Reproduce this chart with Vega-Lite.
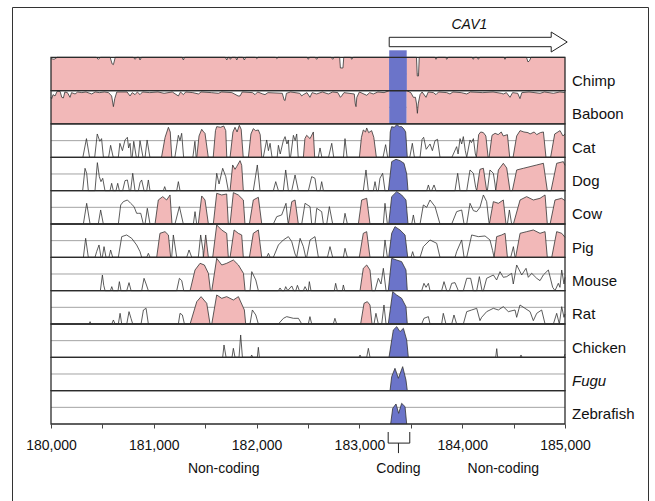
{
"$schema":"https://vega.github.io/schema/vega-lite/v6.json",
"width":636,"height":494,
"autosize":{"type":"none"},
"padding":{"left":12,"top":7,"right":7,"bottom":0},
"config":{"view":{"stroke":"#333","strokeWidth":1},"font":"Liberation Sans"},
"data":{"name":"cons"},
"datasets":{
"tracks":[{"s":"Chimp"},{"s":"Baboon"},{"s":"Cat"},{"s":"Dog"},{"s":"Cow"},{"s":"Pig"},{"s":"Mouse"},{"s":"Rat"},{"s":"Chicken"},{"s":"Fugu"},{"s":"Zebrafish"}],
"exon":[{"exon":"CAV1 coding","start":183290,"end":183460}],
"gene":[{"gene":"CAV1","start":183290,"lx":184070}],
"notes":[{"lbl":"Non-coding","x":181680},{"lbl":"Coding","x":183380,"start":183280,"end":183490},{"lbl":"Non-coding","x":184400}],
"cons":[
{"s":"Chimp","x":180000,"y":98,"g":"a"},{"s":"Chimp","x":180030,"y":97,"g":"a"},{"s":"Chimp","x":180060,"y":100,"g":"a"},{"s":"Chimp","x":180440,"y":100,"g":"a"},{"s":"Chimp","x":180461,"y":97,"g":"a"},{"s":"Chimp","x":180480,"y":100,"g":"a"},{"s":"Chimp","x":180575,"y":100,"g":"a"},{"s":"Chimp","x":180595,"y":90,"g":"a"},{"s":"Chimp","x":180607,"y":89,"g":"a"},{"s":"Chimp","x":180625,"y":100,"g":"a"},{"s":"Chimp","x":180800,"y":100,"g":"a"},{"s":"Chimp","x":180818,"y":97,"g":"a"},{"s":"Chimp","x":180835,"y":100,"g":"a"},{"s":"Chimp","x":180855,"y":100,"g":"a"},{"s":"Chimp","x":180866,"y":96,"g":"a"},{"s":"Chimp","x":180880,"y":100,"g":"a"},{"s":"Chimp","x":181275,"y":100,"g":"a"},{"s":"Chimp","x":181288,"y":96,"g":"a"},{"s":"Chimp","x":181300,"y":100,"g":"a"},{"s":"Chimp","x":181695,"y":100,"g":"a"},{"s":"Chimp","x":181710,"y":96,"g":"a"},{"s":"Chimp","x":181725,"y":100,"g":"a"},{"s":"Chimp","x":181735,"y":100,"g":"a"},{"s":"Chimp","x":181745,"y":97,"g":"a"},{"s":"Chimp","x":181760,"y":100,"g":"a"},{"s":"Chimp","x":181795,"y":100,"g":"a"},{"s":"Chimp","x":181807,"y":96,"g":"a"},{"s":"Chimp","x":181820,"y":100,"g":"a"},{"s":"Chimp","x":181865,"y":100,"g":"a"},{"s":"Chimp","x":181881,"y":96,"g":"a"},{"s":"Chimp","x":181895,"y":100,"g":"a"},{"s":"Chimp","x":181990,"y":100,"g":"a"},{"s":"Chimp","x":182001,"y":98,"g":"a"},{"s":"Chimp","x":182015,"y":100,"g":"a"},{"s":"Chimp","x":182185,"y":100,"g":"a"},{"s":"Chimp","x":182196,"y":98,"g":"a"},{"s":"Chimp","x":182210,"y":100,"g":"a"},{"s":"Chimp","x":182490,"y":100,"g":"a"},{"s":"Chimp","x":182503,"y":97,"g":"a"},{"s":"Chimp","x":182515,"y":100,"g":"a"},{"s":"Chimp","x":182570,"y":100,"g":"a"},{"s":"Chimp","x":182584,"y":97,"g":"a"},{"s":"Chimp","x":182600,"y":100,"g":"a"},{"s":"Chimp","x":182725,"y":100,"g":"a"},{"s":"Chimp","x":182740,"y":97,"g":"a"},{"s":"Chimp","x":182755,"y":100,"g":"a"},{"s":"Chimp","x":182808,"y":100,"g":"a"},{"s":"Chimp","x":182815,"y":84,"g":"a"},{"s":"Chimp","x":182840,"y":84,"g":"a"},{"s":"Chimp","x":182848,"y":100,"g":"a"},{"s":"Chimp","x":182915,"y":100,"g":"a"},{"s":"Chimp","x":182925,"y":97,"g":"a"},{"s":"Chimp","x":182940,"y":100,"g":"a"},{"s":"Chimp","x":183290,"y":100,"g":"a"},
{"s":"Chimp","x":183290,"y":100,"g":"e"},{"s":"Chimp","x":183460,"y":100,"g":"e"},
{"s":"Chimp","x":183460,"y":100,"g":"b"},{"s":"Chimp","x":183555,"y":100,"g":"b"},{"s":"Chimp","x":183563,"y":72,"g":"b"},{"s":"Chimp","x":183575,"y":72,"g":"b"},{"s":"Chimp","x":183582,"y":100,"g":"b"},{"s":"Chimp","x":183735,"y":100,"g":"b"},{"s":"Chimp","x":183745,"y":97,"g":"b"},{"s":"Chimp","x":183760,"y":100,"g":"b"},{"s":"Chimp","x":183840,"y":100,"g":"b"},{"s":"Chimp","x":183849,"y":97,"g":"b"},{"s":"Chimp","x":183865,"y":100,"g":"b"},{"s":"Chimp","x":184095,"y":100,"g":"b"},{"s":"Chimp","x":184108,"y":97,"g":"b"},{"s":"Chimp","x":184120,"y":100,"g":"b"},{"s":"Chimp","x":184145,"y":100,"g":"b"},{"s":"Chimp","x":184157,"y":97,"g":"b"},{"s":"Chimp","x":184170,"y":100,"g":"b"},{"s":"Chimp","x":184405,"y":100,"g":"b"},{"s":"Chimp","x":184416,"y":97,"g":"b"},{"s":"Chimp","x":184430,"y":100,"g":"b"},{"s":"Chimp","x":184625,"y":100,"g":"b"},{"s":"Chimp","x":184640,"y":93,"g":"b"},{"s":"Chimp","x":184655,"y":95,"g":"b"},{"s":"Chimp","x":184670,"y":100,"g":"b"},{"s":"Chimp","x":185000,"y":100,"g":"b"},

{"s":"Baboon","x":180000,"y":90,"g":"a"},{"s":"Baboon","x":180007,"y":88,"g":"a"},{"s":"Baboon","x":180020,"y":94,"g":"a"},{"s":"Baboon","x":180039,"y":92,"g":"a"},{"s":"Baboon","x":180060,"y":99,"g":"a"},{"s":"Baboon","x":180088,"y":99,"g":"a"},{"s":"Baboon","x":180105,"y":90,"g":"a"},{"s":"Baboon","x":180120,"y":89,"g":"a"},{"s":"Baboon","x":180135,"y":98,"g":"a"},{"s":"Baboon","x":180160,"y":97,"g":"a"},{"s":"Baboon","x":180185,"y":90,"g":"a"},{"s":"Baboon","x":180200,"y":97,"g":"a"},{"s":"Baboon","x":180234,"y":95,"g":"a"},{"s":"Baboon","x":180260,"y":98,"g":"a"},{"s":"Baboon","x":180300,"y":97,"g":"a"},{"s":"Baboon","x":180340,"y":98,"g":"a"},{"s":"Baboon","x":180396,"y":95,"g":"a"},{"s":"Baboon","x":180430,"y":98,"g":"a"},{"s":"Baboon","x":180470,"y":97,"g":"a"},{"s":"Baboon","x":180520,"y":98,"g":"a"},{"s":"Baboon","x":180560,"y":97,"g":"a"},{"s":"Baboon","x":180590,"y":92,"g":"a"},{"s":"Baboon","x":180607,"y":76,"g":"a"},{"s":"Baboon","x":180620,"y":88,"g":"a"},{"s":"Baboon","x":180640,"y":98,"g":"a"},{"s":"Baboon","x":180740,"y":98,"g":"a"},{"s":"Baboon","x":180769,"y":92,"g":"a"},{"s":"Baboon","x":180790,"y":97,"g":"a"},{"s":"Baboon","x":180818,"y":94,"g":"a"},{"s":"Baboon","x":180840,"y":98,"g":"a"},{"s":"Baboon","x":180866,"y":94,"g":"a"},{"s":"Baboon","x":180890,"y":98,"g":"a"},{"s":"Baboon","x":180960,"y":97,"g":"a"},{"s":"Baboon","x":181040,"y":98,"g":"a"},{"s":"Baboon","x":181100,"y":96,"g":"a"},{"s":"Baboon","x":181180,"y":98,"g":"a"},{"s":"Baboon","x":181239,"y":92,"g":"a"},{"s":"Baboon","x":181260,"y":98,"g":"a"},{"s":"Baboon","x":181288,"y":94,"g":"a"},{"s":"Baboon","x":181310,"y":98,"g":"a"},{"s":"Baboon","x":181380,"y":97,"g":"a"},{"s":"Baboon","x":181434,"y":95,"g":"a"},{"s":"Baboon","x":181460,"y":98,"g":"a"},{"s":"Baboon","x":181560,"y":97,"g":"a"},{"s":"Baboon","x":181628,"y":96,"g":"a"},{"s":"Baboon","x":181660,"y":98,"g":"a"},{"s":"Baboon","x":181760,"y":97,"g":"a"},{"s":"Baboon","x":181820,"y":92,"g":"a"},{"s":"Baboon","x":181839,"y":92,"g":"a"},{"s":"Baboon","x":181860,"y":98,"g":"a"},{"s":"Baboon","x":181960,"y":97,"g":"a"},{"s":"Baboon","x":181985,"y":94,"g":"a"},{"s":"Baboon","x":182010,"y":98,"g":"a"},{"s":"Baboon","x":182060,"y":95,"g":"a"},{"s":"Baboon","x":182082,"y":94,"g":"a"},{"s":"Baboon","x":182110,"y":97,"g":"a"},{"s":"Baboon","x":182250,"y":96,"g":"a"},{"s":"Baboon","x":182268,"y":86,"g":"a"},{"s":"Baboon","x":182277,"y":85,"g":"a"},{"s":"Baboon","x":182290,"y":96,"g":"a"},{"s":"Baboon","x":182330,"y":98,"g":"a"},{"s":"Baboon","x":182420,"y":96,"g":"a"},{"s":"Baboon","x":182439,"y":92,"g":"a"},{"s":"Baboon","x":182454,"y":94,"g":"a"},{"s":"Baboon","x":182490,"y":97,"g":"a"},{"s":"Baboon","x":182519,"y":90,"g":"a"},{"s":"Baboon","x":182540,"y":97,"g":"a"},{"s":"Baboon","x":182584,"y":95,"g":"a"},{"s":"Baboon","x":182640,"y":98,"g":"a"},{"s":"Baboon","x":182698,"y":95,"g":"a"},{"s":"Baboon","x":182740,"y":98,"g":"a"},{"s":"Baboon","x":182790,"y":97,"g":"a"},{"s":"Baboon","x":182815,"y":90,"g":"a"},{"s":"Baboon","x":182827,"y":92,"g":"a"},{"s":"Baboon","x":182850,"y":97,"g":"a"},{"s":"Baboon","x":182950,"y":95,"g":"a"},{"s":"Baboon","x":182960,"y":80,"g":"a"},{"s":"Baboon","x":182967,"y":76,"g":"a"},{"s":"Baboon","x":182975,"y":90,"g":"a"},{"s":"Baboon","x":183000,"y":98,"g":"a"},{"s":"Baboon","x":183071,"y":93,"g":"a"},{"s":"Baboon","x":183100,"y":97,"g":"a"},{"s":"Baboon","x":183135,"y":95,"g":"a"},{"s":"Baboon","x":183180,"y":98,"g":"a"},{"s":"Baboon","x":183240,"y":97,"g":"a"},{"s":"Baboon","x":183290,"y":100,"g":"a"},
{"s":"Baboon","x":183290,"y":100,"g":"e"},{"s":"Baboon","x":183460,"y":100,"g":"e"},
{"s":"Baboon","x":183460,"y":100,"g":"b"},{"s":"Baboon","x":183500,"y":97,"g":"b"},{"s":"Baboon","x":183525,"y":90,"g":"b"},{"s":"Baboon","x":183545,"y":90,"g":"b"},{"s":"Baboon","x":183556,"y":80,"g":"b"},{"s":"Baboon","x":183564,"y":66,"g":"b"},{"s":"Baboon","x":183572,"y":80,"g":"b"},{"s":"Baboon","x":183590,"y":94,"g":"b"},{"s":"Baboon","x":183610,"y":98,"g":"b"},{"s":"Baboon","x":183648,"y":90,"g":"b"},{"s":"Baboon","x":183670,"y":98,"g":"b"},{"s":"Baboon","x":183720,"y":97,"g":"b"},{"s":"Baboon","x":183745,"y":94,"g":"b"},{"s":"Baboon","x":183770,"y":98,"g":"b"},{"s":"Baboon","x":183850,"y":97,"g":"b"},{"s":"Baboon","x":183881,"y":95,"g":"b"},{"s":"Baboon","x":183910,"y":98,"g":"b"},{"s":"Baboon","x":183990,"y":97,"g":"b"},{"s":"Baboon","x":184044,"y":95,"g":"b"},{"s":"Baboon","x":184080,"y":98,"g":"b"},{"s":"Baboon","x":184200,"y":97,"g":"b"},{"s":"Baboon","x":184300,"y":98,"g":"b"},{"s":"Baboon","x":184380,"y":96,"g":"b"},{"s":"Baboon","x":184400,"y":95,"g":"b"},{"s":"Baboon","x":184430,"y":97,"g":"b"},{"s":"Baboon","x":184465,"y":90,"g":"b"},{"s":"Baboon","x":184490,"y":97,"g":"b"},{"s":"Baboon","x":184540,"y":96,"g":"b"},{"s":"Baboon","x":184562,"y":88,"g":"b"},{"s":"Baboon","x":184580,"y":97,"g":"b"},{"s":"Baboon","x":184650,"y":98,"g":"b"},{"s":"Baboon","x":184757,"y":96,"g":"b"},{"s":"Baboon","x":184800,"y":98,"g":"b"},{"s":"Baboon","x":184887,"y":96,"g":"b"},{"s":"Baboon","x":184950,"y":98,"g":"b"},{"s":"Baboon","x":185000,"y":97,"g":"b"},

{"s":"Cat","x":180310,"y":50},{"s":"Cat","x":180345,"y":78},{"s":"Cat","x":180375,"y":50},{"s":"Cat","x":180425,"y":50},{"s":"Cat","x":180450,"y":85},{"s":"Cat","x":180475,"y":74},{"s":"Cat","x":180492,"y":78},{"s":"Cat","x":180510,"y":50},{"s":"Cat","x":180560,"y":50},{"s":"Cat","x":180580,"y":68},{"s":"Cat","x":180605,"y":50},{"s":"Cat","x":180655,"y":50},{"s":"Cat","x":180670,"y":71},{"s":"Cat","x":180695,"y":60},{"s":"Cat","x":180720,"y":76},{"s":"Cat","x":180743,"y":80},{"s":"Cat","x":180755,"y":64},{"s":"Cat","x":180769,"y":71},{"s":"Cat","x":180780,"y":50},{"s":"Cat","x":180790,"y":50},{"s":"Cat","x":180805,"y":74},{"s":"Cat","x":180830,"y":50},{"s":"Cat","x":180850,"y":50},{"s":"Cat","x":180866,"y":75},{"s":"Cat","x":180895,"y":50},{"s":"Cat","x":180915,"y":50},{"s":"Cat","x":180935,"y":76},{"s":"Cat","x":180962,"y":50},
{"s":"Cat","x":181075,"y":50,"g":"p1"},{"s":"Cat","x":181110,"y":80,"g":"p1"},{"s":"Cat","x":181142,"y":95,"g":"p1"},{"s":"Cat","x":181160,"y":88,"g":"p1"},{"s":"Cat","x":181175,"y":50,"g":"p1"},
{"s":"Cat","x":181205,"y":50},{"s":"Cat","x":181239,"y":83},{"s":"Cat","x":181255,"y":75},{"s":"Cat","x":181271,"y":86},{"s":"Cat","x":181290,"y":50},{"s":"Cat","x":181380,"y":50},{"s":"Cat","x":181400,"y":74},{"s":"Cat","x":181412,"y":50},
{"s":"Cat","x":181418,"y":50,"g":"p2"},{"s":"Cat","x":181440,"y":82,"g":"p2"},{"s":"Cat","x":181466,"y":92,"g":"p2"},{"s":"Cat","x":181485,"y":88,"g":"p2"},{"s":"Cat","x":181498,"y":86,"g":"p2"},{"s":"Cat","x":181530,"y":50,"g":"p2"},
{"s":"Cat","x":181578,"y":50,"g":"p3"},{"s":"Cat","x":181600,"y":90,"g":"p3"},{"s":"Cat","x":181612,"y":96,"g":"p3"},{"s":"Cat","x":181650,"y":95,"g":"p3"},{"s":"Cat","x":181680,"y":97,"g":"p3"},{"s":"Cat","x":181700,"y":90,"g":"p3"},{"s":"Cat","x":181710,"y":50,"g":"p3"},
{"s":"Cat","x":181742,"y":50,"g":"p4"},{"s":"Cat","x":181770,"y":88,"g":"p4"},{"s":"Cat","x":181790,"y":95,"g":"p4"},{"s":"Cat","x":181810,"y":88,"g":"p4"},{"s":"Cat","x":181832,"y":98,"g":"p4"},{"s":"Cat","x":181850,"y":92,"g":"p4"},{"s":"Cat","x":181870,"y":50,"g":"p4"},
{"s":"Cat","x":181920,"y":50,"g":"p5"},{"s":"Cat","x":181945,"y":85,"g":"p5"},{"s":"Cat","x":181968,"y":93,"g":"p5"},{"s":"Cat","x":181990,"y":90,"g":"p5"},{"s":"Cat","x":182017,"y":91,"g":"p5"},{"s":"Cat","x":182035,"y":84,"g":"p5"},{"s":"Cat","x":182050,"y":50,"g":"p5"},
{"s":"Cat","x":182065,"y":50},{"s":"Cat","x":182098,"y":76},{"s":"Cat","x":182115,"y":60},{"s":"Cat","x":182131,"y":71},{"s":"Cat","x":182150,"y":50},{"s":"Cat","x":182200,"y":50},{"s":"Cat","x":182212,"y":68},{"s":"Cat","x":182230,"y":55},{"s":"Cat","x":182260,"y":75},{"s":"Cat","x":182277,"y":81},{"s":"Cat","x":182295,"y":70},{"s":"Cat","x":182309,"y":76},{"s":"Cat","x":182320,"y":50},{"s":"Cat","x":182330,"y":50},{"s":"Cat","x":182358,"y":83},{"s":"Cat","x":182375,"y":75},{"s":"Cat","x":182390,"y":85},{"s":"Cat","x":182405,"y":50},
{"s":"Cat","x":182455,"y":50,"g":"p6"},{"s":"Cat","x":182470,"y":78,"g":"p6"},{"s":"Cat","x":182487,"y":83,"g":"p6"},{"s":"Cat","x":182520,"y":78,"g":"p6"},{"s":"Cat","x":182552,"y":88,"g":"p6"},{"s":"Cat","x":182565,"y":50,"g":"p6"},
{"s":"Cat","x":182600,"y":50},{"s":"Cat","x":182617,"y":64},{"s":"Cat","x":182635,"y":50},{"s":"Cat","x":182700,"y":50},{"s":"Cat","x":182731,"y":71},{"s":"Cat","x":182750,"y":50},{"s":"Cat","x":182845,"y":50},{"s":"Cat","x":182860,"y":78},{"s":"Cat","x":182880,"y":50},
{"s":"Cat","x":183000,"y":50,"g":"p7"},{"s":"Cat","x":183020,"y":80,"g":"p7"},{"s":"Cat","x":183038,"y":91,"g":"p7"},{"s":"Cat","x":183060,"y":88,"g":"p7"},{"s":"Cat","x":183071,"y":94,"g":"p7"},{"s":"Cat","x":183090,"y":87,"g":"p7"},{"s":"Cat","x":183119,"y":90,"g":"p7"},{"s":"Cat","x":183140,"y":80,"g":"p7"},{"s":"Cat","x":183165,"y":50,"g":"p7"},
{"s":"Cat","x":183230,"y":50},{"s":"Cat","x":183255,"y":69},{"s":"Cat","x":183275,"y":50},
{"s":"Cat","x":183290,"y":50,"g":"e"},{"s":"Cat","x":183300,"y":88,"g":"e"},{"s":"Cat","x":183314,"y":96,"g":"e"},{"s":"Cat","x":183340,"y":95,"g":"e"},{"s":"Cat","x":183363,"y":99,"g":"e"},{"s":"Cat","x":183390,"y":96,"g":"e"},{"s":"Cat","x":183411,"y":96,"g":"e"},{"s":"Cat","x":183435,"y":92,"g":"e"},{"s":"Cat","x":183450,"y":88,"g":"e"},{"s":"Cat","x":183466,"y":50,"g":"e"},
{"s":"Cat","x":183490,"y":50},{"s":"Cat","x":183515,"y":71},{"s":"Cat","x":183535,"y":50},{"s":"Cat","x":183590,"y":50},{"s":"Cat","x":183610,"y":77},{"s":"Cat","x":183625,"y":80},{"s":"Cat","x":183650,"y":62},{"s":"Cat","x":183687,"y":70},{"s":"Cat","x":183710,"y":60},{"s":"Cat","x":183736,"y":75},{"s":"Cat","x":183760,"y":77},{"s":"Cat","x":183784,"y":50},{"s":"Cat","x":183900,"y":50},{"s":"Cat","x":183946,"y":66},{"s":"Cat","x":183960,"y":55},{"s":"Cat","x":183979,"y":78},{"s":"Cat","x":183995,"y":70},{"s":"Cat","x":184011,"y":81},{"s":"Cat","x":184030,"y":60},{"s":"Cat","x":184044,"y":50},{"s":"Cat","x":184076,"y":76},{"s":"Cat","x":184090,"y":72},{"s":"Cat","x":184109,"y":78},{"s":"Cat","x":184128,"y":55},
{"s":"Cat","x":184138,"y":50,"g":"p8"},{"s":"Cat","x":184160,"y":84,"g":"p8"},{"s":"Cat","x":184180,"y":88,"g":"p8"},{"s":"Cat","x":184206,"y":87,"g":"p8"},{"s":"Cat","x":184230,"y":82,"g":"p8"},{"s":"Cat","x":184252,"y":50,"g":"p8"},
{"s":"Cat","x":184262,"y":50,"g":"p9"},{"s":"Cat","x":184290,"y":83,"g":"p9"},{"s":"Cat","x":184320,"y":86,"g":"p9"},{"s":"Cat","x":184350,"y":84,"g":"p9"},{"s":"Cat","x":184380,"y":88,"g":"p9"},{"s":"Cat","x":184400,"y":82,"g":"p9"},{"s":"Cat","x":184440,"y":84,"g":"p9"},{"s":"Cat","x":184462,"y":50,"g":"p9"},
{"s":"Cat","x":184495,"y":50,"g":"p10"},{"s":"Cat","x":184530,"y":82,"g":"p10"},{"s":"Cat","x":184563,"y":90,"g":"p10"},{"s":"Cat","x":184600,"y":88,"g":"p10"},{"s":"Cat","x":184640,"y":87,"g":"p10"},{"s":"Cat","x":184660,"y":85,"g":"p10"},{"s":"Cat","x":184700,"y":88,"g":"p10"},{"s":"Cat","x":184725,"y":84,"g":"p10"},{"s":"Cat","x":184760,"y":87,"g":"p10"},{"s":"Cat","x":184790,"y":88,"g":"p10"},{"s":"Cat","x":184815,"y":50,"g":"p10"},
{"s":"Cat","x":184860,"y":50,"g":"p11"},{"s":"Cat","x":184900,"y":85,"g":"p11"},{"s":"Cat","x":184952,"y":90,"g":"p11"},{"s":"Cat","x":184980,"y":82,"g":"p11"},{"s":"Cat","x":185000,"y":85,"g":"p11"},

{"s":"Dog","x":180308,"y":50},{"s":"Dog","x":180331,"y":83.5},{"s":"Dog","x":180347,"y":76},{"s":"Dog","x":180363,"y":50},{"s":"Dog","x":180428,"y":50},{"s":"Dog","x":180451,"y":92},{"s":"Dog","x":180470,"y":71},{"s":"Dog","x":180486,"y":63.5},{"s":"Dog","x":180503,"y":68.5},{"s":"Dog","x":180525,"y":50},{"s":"Dog","x":180574,"y":50},{"s":"Dog","x":180590,"y":61},{"s":"Dog","x":180606,"y":50},{"s":"Dog","x":180632,"y":50},{"s":"Dog","x":180649,"y":61},{"s":"Dog","x":180665,"y":50},{"s":"Dog","x":180697,"y":50},{"s":"Dog","x":180720,"y":65},{"s":"Dog","x":180743,"y":66},{"s":"Dog","x":180762,"y":50},{"s":"Dog","x":180775,"y":50},{"s":"Dog","x":180795,"y":76},{"s":"Dog","x":180817,"y":50},{"s":"Dog","x":180850,"y":50},{"s":"Dog","x":180866,"y":62},{"s":"Dog","x":180882,"y":66},{"s":"Dog","x":180905,"y":50},{"s":"Dog","x":180931,"y":50},{"s":"Dog","x":180947,"y":66},{"s":"Dog","x":180963,"y":50},{"s":"Dog","x":181093,"y":50},{"s":"Dog","x":181106,"y":56},{"s":"Dog","x":181119,"y":50},{"s":"Dog","x":181223,"y":50},{"s":"Dog","x":181239,"y":63.5},{"s":"Dog","x":181255,"y":50},{"s":"Dog","x":181596,"y":50},{"s":"Dog","x":181612,"y":76},{"s":"Dog","x":181635,"y":60},{"s":"Dog","x":181670,"y":83.5},{"s":"Dog","x":181700,"y":71},{"s":"Dog","x":181725,"y":50},
{"s":"Dog","x":181742,"y":50,"g":"p1"},{"s":"Dog","x":181767,"y":88.5,"g":"p1"},{"s":"Dog","x":181790,"y":82,"g":"p1"},{"s":"Dog","x":181806,"y":86,"g":"p1"},{"s":"Dog","x":181839,"y":95,"g":"p1"},{"s":"Dog","x":181855,"y":88,"g":"p1"},{"s":"Dog","x":181871,"y":50,"g":"p1"},
{"s":"Dog","x":181968,"y":50},{"s":"Dog","x":182007,"y":88.5},{"s":"Dog","x":182033,"y":50},{"s":"Dog","x":182163,"y":50},{"s":"Dog","x":182186,"y":63.5},{"s":"Dog","x":182212,"y":50},{"s":"Dog","x":182260,"y":50},{"s":"Dog","x":182283,"y":81},{"s":"Dog","x":182309,"y":50},{"s":"Dog","x":182342,"y":50},{"s":"Dog","x":182374,"y":73.5},{"s":"Dog","x":182406,"y":50},{"s":"Dog","x":182504,"y":50},{"s":"Dog","x":182536,"y":71},{"s":"Dog","x":182568,"y":68.5},{"s":"Dog","x":182585,"y":50},{"s":"Dog","x":182617,"y":50},{"s":"Dog","x":182633,"y":63.5},{"s":"Dog","x":182650,"y":50},{"s":"Dog","x":183038,"y":50},{"s":"Dog","x":183064,"y":81},{"s":"Dog","x":183087,"y":50},{"s":"Dog","x":183136,"y":50},{"s":"Dog","x":183152,"y":63.5},{"s":"Dog","x":183168,"y":50},{"s":"Dog","x":183184,"y":50},{"s":"Dog","x":183200,"y":68.5},{"s":"Dog","x":183226,"y":76},{"s":"Dog","x":183249,"y":50},
{"s":"Dog","x":183282,"y":50,"g":"e"},{"s":"Dog","x":183314,"y":93.5,"g":"e"},{"s":"Dog","x":183356,"y":97,"g":"e"},{"s":"Dog","x":183395,"y":95,"g":"e"},{"s":"Dog","x":183434,"y":91,"g":"e"},{"s":"Dog","x":183460,"y":75,"g":"e"},{"s":"Dog","x":183473,"y":50,"g":"e"},
{"s":"Dog","x":183655,"y":50},{"s":"Dog","x":183671,"y":58.5},{"s":"Dog","x":183687,"y":50},{"s":"Dog","x":183703,"y":50},{"s":"Dog","x":183726,"y":58.5},{"s":"Dog","x":183745,"y":50},{"s":"Dog","x":183930,"y":50},{"s":"Dog","x":183956,"y":76},{"s":"Dog","x":183979,"y":50},{"s":"Dog","x":184044,"y":50},{"s":"Dog","x":184076,"y":81},{"s":"Dog","x":184109,"y":76},{"s":"Dog","x":184131,"y":55},
{"s":"Dog","x":184141,"y":50,"g":"p2"},{"s":"Dog","x":184173,"y":82,"g":"p2"},{"s":"Dog","x":184206,"y":83.5,"g":"p2"},{"s":"Dog","x":184238,"y":50,"g":"p2"},
{"s":"Dog","x":184245,"y":50},{"s":"Dog","x":184270,"y":81},{"s":"Dog","x":184303,"y":76},{"s":"Dog","x":184319,"y":60},
{"s":"Dog","x":184326,"y":50,"g":"p3"},{"s":"Dog","x":184352,"y":81,"g":"p3"},{"s":"Dog","x":184400,"y":91,"g":"p3"},{"s":"Dog","x":184433,"y":84,"g":"p3"},{"s":"Dog","x":184465,"y":50,"g":"p3"},
{"s":"Dog","x":184488,"y":50,"g":"p4"},{"s":"Dog","x":184530,"y":81,"g":"p4"},{"s":"Dog","x":184595,"y":83.5,"g":"p4"},{"s":"Dog","x":184660,"y":86,"g":"p4"},{"s":"Dog","x":184725,"y":88.5,"g":"p4"},{"s":"Dog","x":184790,"y":91,"g":"p4"},{"s":"Dog","x":184828,"y":50,"g":"p4"},
{"s":"Dog","x":184864,"y":50,"g":"p5"},{"s":"Dog","x":184919,"y":91,"g":"p5"},{"s":"Dog","x":184984,"y":93.5,"g":"p5"},{"s":"Dog","x":185000,"y":88,"g":"p5"},

{"s":"Cow","x":180315,"y":50},{"s":"Cow","x":180347,"y":81},{"s":"Cow","x":180380,"y":50},{"s":"Cow","x":180460,"y":50},{"s":"Cow","x":180483,"y":71},{"s":"Cow","x":180509,"y":50},{"s":"Cow","x":180655,"y":50},{"s":"Cow","x":180678,"y":78.5},{"s":"Cow","x":180704,"y":83.5},{"s":"Cow","x":180743,"y":86},{"s":"Cow","x":180775,"y":81},{"s":"Cow","x":180808,"y":76},{"s":"Cow","x":180833,"y":66},{"s":"Cow","x":180850,"y":66},{"s":"Cow","x":180873,"y":66},{"s":"Cow","x":180898,"y":50},{"s":"Cow","x":180915,"y":50},{"s":"Cow","x":180937,"y":73.5},{"s":"Cow","x":180963,"y":50},
{"s":"Cow","x":181012,"y":50,"g":"p1"},{"s":"Cow","x":181044,"y":86,"g":"p1"},{"s":"Cow","x":181087,"y":91,"g":"p1"},{"s":"Cow","x":181125,"y":86,"g":"p1"},{"s":"Cow","x":181158,"y":93.5,"g":"p1"},{"s":"Cow","x":181177,"y":50,"g":"p1"},
{"s":"Cow","x":181206,"y":50},{"s":"Cow","x":181249,"y":76},{"s":"Cow","x":181287,"y":50},{"s":"Cow","x":181385,"y":50},{"s":"Cow","x":181401,"y":68.5},{"s":"Cow","x":181417,"y":50},
{"s":"Cow","x":181433,"y":50,"g":"p2"},{"s":"Cow","x":181466,"y":92,"g":"p2"},{"s":"Cow","x":181498,"y":86,"g":"p2"},{"s":"Cow","x":181531,"y":50,"g":"p2"},
{"s":"Cow","x":181579,"y":50,"g":"p3"},{"s":"Cow","x":181612,"y":96,"g":"p3"},{"s":"Cow","x":181660,"y":93.5,"g":"p3"},{"s":"Cow","x":181709,"y":95,"g":"p3"},{"s":"Cow","x":181725,"y":50,"g":"p3"},
{"s":"Cow","x":181742,"y":50,"g":"p4"},{"s":"Cow","x":181774,"y":97,"g":"p4"},{"s":"Cow","x":181822,"y":93.5,"g":"p4"},{"s":"Cow","x":181871,"y":86,"g":"p4"},{"s":"Cow","x":181887,"y":50,"g":"p4"},
{"s":"Cow","x":181930,"y":50,"g":"p5"},{"s":"Cow","x":181968,"y":86,"g":"p5"},{"s":"Cow","x":182017,"y":90,"g":"p5"},{"s":"Cow","x":182050,"y":50,"g":"p5"},
{"s":"Cow","x":182163,"y":50},{"s":"Cow","x":182196,"y":61},{"s":"Cow","x":182244,"y":63.5},{"s":"Cow","x":182286,"y":81},{"s":"Cow","x":182303,"y":55},
{"s":"Cow","x":182309,"y":50,"g":"p6"},{"s":"Cow","x":182342,"y":83.5,"g":"p6"},{"s":"Cow","x":182374,"y":86,"g":"p6"},{"s":"Cow","x":182406,"y":50,"g":"p6"},
{"s":"Cow","x":182439,"y":50},{"s":"Cow","x":182471,"y":81},{"s":"Cow","x":182520,"y":76},{"s":"Cow","x":182536,"y":50},{"s":"Cow","x":182568,"y":50},{"s":"Cow","x":182585,"y":73.5},{"s":"Cow","x":182633,"y":68.5},{"s":"Cow","x":182650,"y":50},{"s":"Cow","x":182682,"y":50},{"s":"Cow","x":182708,"y":76},{"s":"Cow","x":182740,"y":50},{"s":"Cow","x":182844,"y":50},{"s":"Cow","x":182860,"y":66},{"s":"Cow","x":182883,"y":50},
{"s":"Cow","x":182990,"y":50,"g":"p7"},{"s":"Cow","x":183022,"y":86,"g":"p7"},{"s":"Cow","x":183071,"y":88.5,"g":"p7"},{"s":"Cow","x":183103,"y":50,"g":"p7"},
{"s":"Cow","x":183233,"y":50},{"s":"Cow","x":183249,"y":81},{"s":"Cow","x":183272,"y":50},
{"s":"Cow","x":183285,"y":50,"g":"e"},{"s":"Cow","x":183314,"y":91,"g":"e"},{"s":"Cow","x":183363,"y":98.5,"g":"e"},{"s":"Cow","x":183411,"y":93.5,"g":"e"},{"s":"Cow","x":183453,"y":86,"g":"e"},{"s":"Cow","x":183473,"y":50,"g":"e"},
{"s":"Cow","x":183509,"y":50},{"s":"Cow","x":183525,"y":63.5},{"s":"Cow","x":183541,"y":50},{"s":"Cow","x":183590,"y":50},{"s":"Cow","x":183622,"y":78.5},{"s":"Cow","x":183655,"y":75},{"s":"Cow","x":183687,"y":86},{"s":"Cow","x":183736,"y":76},{"s":"Cow","x":183784,"y":50},{"s":"Cow","x":183898,"y":50},{"s":"Cow","x":183946,"y":68.5},{"s":"Cow","x":183995,"y":71},{"s":"Cow","x":184018,"y":50},{"s":"Cow","x":184044,"y":50},{"s":"Cow","x":184076,"y":81},{"s":"Cow","x":184109,"y":70},{"s":"Cow","x":184141,"y":68.5},{"s":"Cow","x":184173,"y":75},{"s":"Cow","x":184206,"y":93.5},{"s":"Cow","x":184238,"y":83.5},{"s":"Cow","x":184258,"y":55},
{"s":"Cow","x":184264,"y":50,"g":"p8"},{"s":"Cow","x":184303,"y":83.5,"g":"p8"},{"s":"Cow","x":184352,"y":81,"g":"p8"},{"s":"Cow","x":184400,"y":86,"g":"p8"},{"s":"Cow","x":184426,"y":50,"g":"p8"},
{"s":"Cow","x":184440,"y":50},{"s":"Cow","x":184459,"y":71},{"s":"Cow","x":184481,"y":50},
{"s":"Cow","x":184498,"y":50,"g":"p9"},{"s":"Cow","x":184563,"y":86,"g":"p9"},{"s":"Cow","x":184627,"y":91,"g":"p9"},{"s":"Cow","x":184692,"y":86,"g":"p9"},{"s":"Cow","x":184757,"y":88.5,"g":"p9"},{"s":"Cow","x":184806,"y":93.5,"g":"p9"},{"s":"Cow","x":184828,"y":50,"g":"p9"},
{"s":"Cow","x":184855,"y":50,"g":"p10"},{"s":"Cow","x":184903,"y":86,"g":"p10"},{"s":"Cow","x":184968,"y":88.5,"g":"p10"},{"s":"Cow","x":185000,"y":85,"g":"p10"},

{"s":"Pig","x":180315,"y":50},{"s":"Pig","x":180337,"y":78.5},{"s":"Pig","x":180363,"y":50},{"s":"Pig","x":180428,"y":50},{"s":"Pig","x":180444,"y":58.5},{"s":"Pig","x":180467,"y":68.5},{"s":"Pig","x":180486,"y":50},{"s":"Pig","x":180499,"y":50},{"s":"Pig","x":180516,"y":66},{"s":"Pig","x":180535,"y":50},{"s":"Pig","x":180564,"y":50},{"s":"Pig","x":180580,"y":61},{"s":"Pig","x":180600,"y":50},{"s":"Pig","x":180655,"y":50},{"s":"Pig","x":180688,"y":81},{"s":"Pig","x":180736,"y":83.5},{"s":"Pig","x":180785,"y":78.5},{"s":"Pig","x":180833,"y":68.5},{"s":"Pig","x":180866,"y":58.5},{"s":"Pig","x":180882,"y":50},{"s":"Pig","x":180931,"y":50},{"s":"Pig","x":180947,"y":56},{"s":"Pig","x":180963,"y":50},
{"s":"Pig","x":181028,"y":50,"g":"p1"},{"s":"Pig","x":181060,"y":86,"g":"p1"},{"s":"Pig","x":181109,"y":88.5,"g":"p1"},{"s":"Pig","x":181142,"y":83.5,"g":"p1"},{"s":"Pig","x":181164,"y":50,"g":"p1"},
{"s":"Pig","x":181174,"y":50},{"s":"Pig","x":181190,"y":83.5},{"s":"Pig","x":181223,"y":50},{"s":"Pig","x":181320,"y":50},{"s":"Pig","x":181343,"y":61},{"s":"Pig","x":181369,"y":50},{"s":"Pig","x":181433,"y":50},{"s":"Pig","x":181456,"y":83.5},{"s":"Pig","x":181479,"y":60},
{"s":"Pig","x":181482,"y":50,"g":"p2"},{"s":"Pig","x":181505,"y":83.5,"g":"p2"},{"s":"Pig","x":181531,"y":50,"g":"p2"},
{"s":"Pig","x":181573,"y":50,"g":"p3"},{"s":"Pig","x":181612,"y":98.5,"g":"p3"},{"s":"Pig","x":181660,"y":91,"g":"p3"},{"s":"Pig","x":181709,"y":86,"g":"p3"},{"s":"Pig","x":181725,"y":50,"g":"p3"},
{"s":"Pig","x":181742,"y":50,"g":"p4"},{"s":"Pig","x":181781,"y":91,"g":"p4"},{"s":"Pig","x":181822,"y":86,"g":"p4"},{"s":"Pig","x":181855,"y":83.5,"g":"p4"},{"s":"Pig","x":181871,"y":50,"g":"p4"},
{"s":"Pig","x":181930,"y":50,"g":"p5"},{"s":"Pig","x":181968,"y":86,"g":"p5"},{"s":"Pig","x":182017,"y":91,"g":"p5"},{"s":"Pig","x":182050,"y":50,"g":"p5"},
{"s":"Pig","x":182098,"y":50},{"s":"Pig","x":182115,"y":56},{"s":"Pig","x":182131,"y":50},{"s":"Pig","x":182163,"y":50},{"s":"Pig","x":182212,"y":68.5},{"s":"Pig","x":182260,"y":76},{"s":"Pig","x":182309,"y":81},{"s":"Pig","x":182342,"y":73.5},{"s":"Pig","x":182374,"y":55},{"s":"Pig","x":182390,"y":50},{"s":"Pig","x":182423,"y":78.5},{"s":"Pig","x":182455,"y":66},{"s":"Pig","x":182478,"y":50},{"s":"Pig","x":182487,"y":50},{"s":"Pig","x":182520,"y":76},{"s":"Pig","x":182568,"y":81},{"s":"Pig","x":182601,"y":50},{"s":"Pig","x":182689,"y":50},{"s":"Pig","x":182714,"y":66},{"s":"Pig","x":182740,"y":50},{"s":"Pig","x":182844,"y":50},{"s":"Pig","x":182860,"y":63.5},{"s":"Pig","x":182883,"y":50},
{"s":"Pig","x":182999,"y":50,"g":"p6"},{"s":"Pig","x":183038,"y":86,"g":"p6"},{"s":"Pig","x":183071,"y":88.5,"g":"p6"},{"s":"Pig","x":183103,"y":50,"g":"p6"},
{"s":"Pig","x":183233,"y":50},{"s":"Pig","x":183249,"y":76},{"s":"Pig","x":183272,"y":50},
{"s":"Pig","x":183285,"y":50,"g":"e"},{"s":"Pig","x":183314,"y":86,"g":"e"},{"s":"Pig","x":183346,"y":96,"g":"e"},{"s":"Pig","x":183395,"y":91,"g":"e"},{"s":"Pig","x":183444,"y":83.5,"g":"e"},{"s":"Pig","x":183470,"y":50,"g":"e"},
{"s":"Pig","x":183502,"y":50},{"s":"Pig","x":183518,"y":58.5},{"s":"Pig","x":183534,"y":50},{"s":"Pig","x":183590,"y":50},{"s":"Pig","x":183622,"y":66},{"s":"Pig","x":183687,"y":76},{"s":"Pig","x":183752,"y":71},{"s":"Pig","x":183784,"y":50},{"s":"Pig","x":183930,"y":50},{"s":"Pig","x":183946,"y":58.5},{"s":"Pig","x":183995,"y":76},{"s":"Pig","x":184018,"y":50},{"s":"Pig","x":184044,"y":50},{"s":"Pig","x":184092,"y":83.5},{"s":"Pig","x":184157,"y":81},{"s":"Pig","x":184222,"y":82},{"s":"Pig","x":184270,"y":76},{"s":"Pig","x":184296,"y":60},
{"s":"Pig","x":184310,"y":50,"g":"p7"},{"s":"Pig","x":184335,"y":81,"g":"p7"},{"s":"Pig","x":184384,"y":83.5,"g":"p7"},{"s":"Pig","x":184417,"y":86,"g":"p7"},{"s":"Pig","x":184440,"y":50,"g":"p7"},
{"s":"Pig","x":184472,"y":50},{"s":"Pig","x":184498,"y":66},{"s":"Pig","x":184514,"y":50},
{"s":"Pig","x":184520,"y":50,"g":"p8"},{"s":"Pig","x":184563,"y":86,"g":"p8"},{"s":"Pig","x":184627,"y":88.5,"g":"p8"},{"s":"Pig","x":184692,"y":91,"g":"p8"},{"s":"Pig","x":184757,"y":86,"g":"p8"},{"s":"Pig","x":184806,"y":88.5,"g":"p8"},{"s":"Pig","x":184828,"y":50,"g":"p8"},
{"s":"Pig","x":184871,"y":50,"g":"p9"},{"s":"Pig","x":184919,"y":88.5,"g":"p9"},{"s":"Pig","x":184968,"y":86,"g":"p9"},{"s":"Pig","x":185000,"y":80,"g":"p9"},

{"s":"Mouse","x":180480,"y":50},{"s":"Mouse","x":180500,"y":73.5},{"s":"Mouse","x":180513,"y":58},{"s":"Mouse","x":180526,"y":50},{"s":"Mouse","x":180578,"y":50},{"s":"Mouse","x":180591,"y":56},{"s":"Mouse","x":180604,"y":50},{"s":"Mouse","x":180652,"y":50},{"s":"Mouse","x":180665,"y":63.5},{"s":"Mouse","x":180681,"y":50},{"s":"Mouse","x":180737,"y":50},{"s":"Mouse","x":180759,"y":62},{"s":"Mouse","x":180779,"y":50},{"s":"Mouse","x":180882,"y":50},{"s":"Mouse","x":180905,"y":68.5},{"s":"Mouse","x":180925,"y":60},{"s":"Mouse","x":180947,"y":50},{"s":"Mouse","x":181223,"y":50},{"s":"Mouse","x":181249,"y":68.5},{"s":"Mouse","x":181272,"y":65},{"s":"Mouse","x":181291,"y":50},
{"s":"Mouse","x":181353,"y":50,"g":"p1"},{"s":"Mouse","x":181401,"y":81,"g":"p1"},{"s":"Mouse","x":181450,"y":91,"g":"p1"},{"s":"Mouse","x":181492,"y":88.5,"g":"p1"},{"s":"Mouse","x":181531,"y":76,"g":"p1"},{"s":"Mouse","x":181551,"y":50,"g":"p1"},
{"s":"Mouse","x":181564,"y":50,"g":"p2"},{"s":"Mouse","x":181612,"y":98.5,"g":"p2"},{"s":"Mouse","x":181661,"y":88.5,"g":"p2"},{"s":"Mouse","x":181709,"y":91,"g":"p2"},{"s":"Mouse","x":181774,"y":96,"g":"p2"},{"s":"Mouse","x":181823,"y":88.5,"g":"p2"},{"s":"Mouse","x":181872,"y":76,"g":"p2"},{"s":"Mouse","x":181888,"y":50,"g":"p2"},
{"s":"Mouse","x":181936,"y":50},{"s":"Mouse","x":181953,"y":78.5},{"s":"Mouse","x":181992,"y":66},{"s":"Mouse","x":182017,"y":50},{"s":"Mouse","x":182212,"y":50},{"s":"Mouse","x":182228,"y":54},{"s":"Mouse","x":182245,"y":50},{"s":"Mouse","x":182270,"y":50},{"s":"Mouse","x":182283,"y":56},{"s":"Mouse","x":182303,"y":50},{"s":"Mouse","x":182342,"y":57},{"s":"Mouse","x":182361,"y":50},{"s":"Mouse","x":182381,"y":50},{"s":"Mouse","x":182397,"y":58},{"s":"Mouse","x":182416,"y":50},{"s":"Mouse","x":182455,"y":50},{"s":"Mouse","x":182471,"y":56},{"s":"Mouse","x":182491,"y":50},{"s":"Mouse","x":182503,"y":50},{"s":"Mouse","x":182513,"y":63.5},{"s":"Mouse","x":182529,"y":50},{"s":"Mouse","x":182756,"y":50},{"s":"Mouse","x":182769,"y":61},{"s":"Mouse","x":182785,"y":50},{"s":"Mouse","x":182834,"y":50},{"s":"Mouse","x":182844,"y":58.5},{"s":"Mouse","x":182857,"y":50},
{"s":"Mouse","x":183006,"y":50,"g":"p3"},{"s":"Mouse","x":183038,"y":83.5,"g":"p3"},{"s":"Mouse","x":183071,"y":88.5,"g":"p3"},{"s":"Mouse","x":183103,"y":81,"g":"p3"},{"s":"Mouse","x":183123,"y":50,"g":"p3"},
{"s":"Mouse","x":183152,"y":50},{"s":"Mouse","x":183184,"y":68.5},{"s":"Mouse","x":183210,"y":60},{"s":"Mouse","x":183233,"y":83.5},{"s":"Mouse","x":183259,"y":50},
{"s":"Mouse","x":183281,"y":50,"g":"e"},{"s":"Mouse","x":183314,"y":98.5,"g":"e"},{"s":"Mouse","x":183362,"y":96,"g":"e"},{"s":"Mouse","x":183411,"y":93.5,"g":"e"},{"s":"Mouse","x":183453,"y":81,"g":"e"},{"s":"Mouse","x":183466,"y":50,"g":"e"},
{"s":"Mouse","x":183606,"y":50},{"s":"Mouse","x":183628,"y":61},{"s":"Mouse","x":183648,"y":55},{"s":"Mouse","x":183671,"y":61},{"s":"Mouse","x":183687,"y":50},{"s":"Mouse","x":183800,"y":50},{"s":"Mouse","x":183823,"y":63.5},{"s":"Mouse","x":183849,"y":50},{"s":"Mouse","x":183875,"y":50},{"s":"Mouse","x":183898,"y":61},{"s":"Mouse","x":183930,"y":62},{"s":"Mouse","x":183962,"y":50},{"s":"Mouse","x":184011,"y":50},{"s":"Mouse","x":184044,"y":68.5},{"s":"Mouse","x":184082,"y":68.5},{"s":"Mouse","x":184108,"y":50},{"s":"Mouse","x":184141,"y":50},{"s":"Mouse","x":184167,"y":71},{"s":"Mouse","x":184193,"y":50},{"s":"Mouse","x":184206,"y":50},{"s":"Mouse","x":184238,"y":68.5},{"s":"Mouse","x":184303,"y":73.5},{"s":"Mouse","x":184335,"y":66},{"s":"Mouse","x":184368,"y":78.5},{"s":"Mouse","x":184400,"y":70},{"s":"Mouse","x":184433,"y":71},{"s":"Mouse","x":184481,"y":76},{"s":"Mouse","x":184497,"y":60},{"s":"Mouse","x":184530,"y":88.5},{"s":"Mouse","x":184579,"y":73.5},{"s":"Mouse","x":184621,"y":83.5},{"s":"Mouse","x":184643,"y":70},{"s":"Mouse","x":184676,"y":76},{"s":"Mouse","x":184725,"y":68.5},{"s":"Mouse","x":184757,"y":65},{"s":"Mouse","x":184789,"y":73.5},{"s":"Mouse","x":184838,"y":81},{"s":"Mouse","x":184880,"y":55},{"s":"Mouse","x":184903,"y":50},{"s":"Mouse","x":184935,"y":61},{"s":"Mouse","x":184951,"y":55},{"s":"Mouse","x":184968,"y":81},{"s":"Mouse","x":184990,"y":60},{"s":"Mouse","x":185000,"y":70},

{"s":"Rat","x":180370,"y":50},{"s":"Rat","x":180380,"y":53.5},{"s":"Rat","x":180390,"y":50},{"s":"Rat","x":180591,"y":50},{"s":"Rat","x":180607,"y":56},{"s":"Rat","x":180623,"y":50},{"s":"Rat","x":180655,"y":50},{"s":"Rat","x":180672,"y":66},{"s":"Rat","x":180688,"y":50},{"s":"Rat","x":180737,"y":50},{"s":"Rat","x":180759,"y":68.5},{"s":"Rat","x":180779,"y":58},{"s":"Rat","x":180795,"y":50},{"s":"Rat","x":180876,"y":50},{"s":"Rat","x":180899,"y":71},{"s":"Rat","x":180925,"y":73.5},{"s":"Rat","x":180947,"y":50},{"s":"Rat","x":181239,"y":50},{"s":"Rat","x":181255,"y":66},{"s":"Rat","x":181278,"y":63.5},{"s":"Rat","x":181298,"y":50},
{"s":"Rat","x":181353,"y":50,"g":"p1"},{"s":"Rat","x":181418,"y":83.5,"g":"p1"},{"s":"Rat","x":181460,"y":91,"g":"p1"},{"s":"Rat","x":181515,"y":81,"g":"p1"},{"s":"Rat","x":181547,"y":50,"g":"p1"},
{"s":"Rat","x":181564,"y":50,"g":"p2"},{"s":"Rat","x":181612,"y":93.5,"g":"p2"},{"s":"Rat","x":181661,"y":88.5,"g":"p2"},{"s":"Rat","x":181709,"y":91,"g":"p2"},{"s":"Rat","x":181774,"y":86,"g":"p2"},{"s":"Rat","x":181823,"y":91,"g":"p2"},{"s":"Rat","x":181881,"y":71,"g":"p2"},{"s":"Rat","x":181894,"y":50,"g":"p2"},
{"s":"Rat","x":181936,"y":50},{"s":"Rat","x":181959,"y":71},{"s":"Rat","x":181992,"y":63.5},{"s":"Rat","x":182017,"y":50},{"s":"Rat","x":182212,"y":50},{"s":"Rat","x":182261,"y":58.5},{"s":"Rat","x":182293,"y":61},{"s":"Rat","x":182358,"y":58.5},{"s":"Rat","x":182407,"y":58.5},{"s":"Rat","x":182439,"y":50},{"s":"Rat","x":182503,"y":50},{"s":"Rat","x":182519,"y":61},{"s":"Rat","x":182536,"y":50},{"s":"Rat","x":182746,"y":50},{"s":"Rat","x":182762,"y":58.5},{"s":"Rat","x":182779,"y":50},
{"s":"Rat","x":183012,"y":50,"g":"p3"},{"s":"Rat","x":183045,"y":81,"g":"p3"},{"s":"Rat","x":183077,"y":83.5,"g":"p3"},{"s":"Rat","x":183103,"y":78.5,"g":"p3"},{"s":"Rat","x":183123,"y":50,"g":"p3"},
{"s":"Rat","x":183142,"y":50},{"s":"Rat","x":183161,"y":66},{"s":"Rat","x":183184,"y":50},{"s":"Rat","x":183217,"y":50},{"s":"Rat","x":183239,"y":78.5},{"s":"Rat","x":183259,"y":50},
{"s":"Rat","x":183281,"y":50,"g":"e"},{"s":"Rat","x":183324,"y":98.5,"g":"e"},{"s":"Rat","x":183362,"y":93.5,"g":"e"},{"s":"Rat","x":183411,"y":88.5,"g":"e"},{"s":"Rat","x":183453,"y":76,"g":"e"},{"s":"Rat","x":183466,"y":50,"g":"e"},
{"s":"Rat","x":183606,"y":50},{"s":"Rat","x":183628,"y":58.5},{"s":"Rat","x":183671,"y":61},{"s":"Rat","x":183687,"y":50},{"s":"Rat","x":183800,"y":50},{"s":"Rat","x":183816,"y":66},{"s":"Rat","x":183842,"y":50},{"s":"Rat","x":183898,"y":50},{"s":"Rat","x":183920,"y":63.5},{"s":"Rat","x":183946,"y":50},{"s":"Rat","x":184011,"y":50},{"s":"Rat","x":184044,"y":68.5},{"s":"Rat","x":184092,"y":71},{"s":"Rat","x":184141,"y":73.5},{"s":"Rat","x":184173,"y":55},{"s":"Rat","x":184189,"y":60},{"s":"Rat","x":184238,"y":68.5},{"s":"Rat","x":184303,"y":73.5},{"s":"Rat","x":184352,"y":71},{"s":"Rat","x":184400,"y":76},{"s":"Rat","x":184449,"y":68.5},{"s":"Rat","x":184514,"y":71},{"s":"Rat","x":184530,"y":60},{"s":"Rat","x":184562,"y":78.5},{"s":"Rat","x":184611,"y":73.5},{"s":"Rat","x":184660,"y":68.5},{"s":"Rat","x":184692,"y":55},{"s":"Rat","x":184725,"y":66},{"s":"Rat","x":184773,"y":71},{"s":"Rat","x":184806,"y":50},{"s":"Rat","x":184887,"y":50},{"s":"Rat","x":184919,"y":66},{"s":"Rat","x":184945,"y":50},{"s":"Rat","x":184968,"y":76},{"s":"Rat","x":184990,"y":60},{"s":"Rat","x":185000,"y":65},

{"s":"Chicken","x":181670,"y":50},{"s":"Chicken","x":181683,"y":68.5},{"s":"Chicken","x":181703,"y":50},{"s":"Chicken","x":181761,"y":50},{"s":"Chicken","x":181774,"y":63.5},{"s":"Chicken","x":181790,"y":50},{"s":"Chicken","x":181829,"y":50},{"s":"Chicken","x":181845,"y":83.5},{"s":"Chicken","x":181862,"y":50},{"s":"Chicken","x":181943,"y":50},{"s":"Chicken","x":181952,"y":53.5},{"s":"Chicken","x":181962,"y":50},{"s":"Chicken","x":182007,"y":50},{"s":"Chicken","x":182017,"y":65},{"s":"Chicken","x":182027,"y":50},{"s":"Chicken","x":182996,"y":50},{"s":"Chicken","x":183006,"y":53.5},{"s":"Chicken","x":183016,"y":50},{"s":"Chicken","x":183071,"y":50},{"s":"Chicken","x":183087,"y":63.5},{"s":"Chicken","x":183103,"y":50},
{"s":"Chicken","x":183288,"y":50,"g":"e"},{"s":"Chicken","x":183330,"y":91,"g":"e"},{"s":"Chicken","x":183363,"y":96,"g":"e"},{"s":"Chicken","x":183395,"y":88.5,"g":"e"},{"s":"Chicken","x":183428,"y":93.5,"g":"e"},{"s":"Chicken","x":183460,"y":76,"g":"e"},{"s":"Chicken","x":183476,"y":50,"g":"e"},
{"s":"Chicken","x":184326,"y":50},{"s":"Chicken","x":184336,"y":63},{"s":"Chicken","x":184345,"y":50},{"s":"Chicken","x":184563,"y":50},{"s":"Chicken","x":184572,"y":53.5},{"s":"Chicken","x":184582,"y":50},{"s":"Chicken","x":184990,"y":50},{"s":"Chicken","x":185000,"y":55},

{"s":"Fugu","x":183298,"y":50,"g":"e"},{"s":"Fugu","x":183314,"y":71,"g":"e"},{"s":"Fugu","x":183346,"y":83.5,"g":"e"},{"s":"Fugu","x":183379,"y":68.5,"g":"e"},{"s":"Fugu","x":183421,"y":86,"g":"e"},{"s":"Fugu","x":183453,"y":66,"g":"e"},{"s":"Fugu","x":183466,"y":50,"g":"e"},

{"s":"Zebrafish","x":183304,"y":50,"g":"e"},{"s":"Zebrafish","x":183324,"y":73.5,"g":"e"},{"s":"Zebrafish","x":183356,"y":80,"g":"e"},{"s":"Zebrafish","x":183382,"y":66,"g":"e"},{"s":"Zebrafish","x":183411,"y":81,"g":"e"},{"s":"Zebrafish","x":183444,"y":76,"g":"e"},{"s":"Zebrafish","x":183460,"y":50,"g":"e"}
]},
"resolve":{"scale":{"y":"independent"}},
"layer":[
{"data":{"name":"tracks"},"mark":{"type":"rule","color":"#a3a3a3","strokeWidth":1},
 "encoding":{
  "x":{"datum":180000,"type":"quantitative","title":null,"scale":{"domain":[180000,185000],"range":[39,553],"zero":false,"nice":false},
   "axis":{"values":[180000,180500,181000,181500,182000,182500,183000,183500,184000,184500,185000],"labelExpr":"datum.value % 1000 === 0 ? format(datum.value, ',') : ''","offset":-77,"domain":false,"grid":false,"ticks":true,"tickSize":4,"tickColor":"#444","tickWidth":1,"labelFontSize":14,"labelColor":"#111","labelPadding":10,"labelFlush":false,"labelOverlap":false,"title":null}},
  "x2":{"datum":185000},
  "y":{"field":"s","type":"nominal","bandPosition":0.5,"scale":{"type":"band","domain":["Chimp","Baboon","Cat","Dog","Cow","Pig","Mouse","Rat","Chicken","Fugu","Zebrafish"],"range":[50.3,417],"paddingInner":0,"paddingOuter":0},"axis":null}}},

{"transform":[{"filter":"datum.s==='Chimp'"}],"layer":[
 {"transform":[{"filter":"datum.g"}],"mark":{"type":"area","opacity":1},"encoding":{"x":{"field":"x","type":"quantitative","title":null},"y":{"field":"y","type":"quantitative","scale":{"domain":[50,100],"range":[83.64,50.3],"zero":false,"nice":false},"axis":null},"y2":{"datum":50},"detail":{"field":"g"},"color":{"condition":{"test":"datum.g==='e'","value":"#6b74c9"},"value":"#f2b8b8"}}},
 {"mark":{"type":"line","color":"#333","strokeWidth":0.8},"encoding":{"x":{"field":"x","type":"quantitative","title":null},"y":{"field":"y","type":"quantitative","scale":{"domain":[50,100],"range":[83.64,50.3],"zero":false,"nice":false},"axis":null}}}]},

{"transform":[{"filter":"datum.s==='Baboon'"}],"layer":[
 {"transform":[{"filter":"datum.g"}],"mark":{"type":"area","opacity":1},"encoding":{"x":{"field":"x","type":"quantitative","title":null},"y":{"field":"y","type":"quantitative","scale":{"domain":[50,100],"range":[116.97,83.64],"zero":false,"nice":false},"axis":null},"y2":{"datum":50},"detail":{"field":"g"},"color":{"condition":{"test":"datum.g==='e'","value":"#6b74c9"},"value":"#f2b8b8"}}},
 {"mark":{"type":"line","color":"#333","strokeWidth":0.8},"encoding":{"x":{"field":"x","type":"quantitative","title":null},"y":{"field":"y","type":"quantitative","scale":{"domain":[50,100],"range":[116.97,83.64],"zero":false,"nice":false},"axis":null}}}]},

{"data":{"name":"exon"},"mark":{"type":"rect","color":"#6b74c9","opacity":1},"encoding":{"x":{"field":"start","type":"quantitative","title":null},"x2":{"field":"end"},"y":{"datum":110.5,"type":"quantitative","scale":{"domain":[50,100],"range":[83.64,50.3],"zero":false,"nice":false},"axis":null},"y2":{"datum":50}}},

{"transform":[{"filter":"datum.s==='Cat'"}],"layer":[
 {"transform":[{"filter":"datum.g"}],"mark":{"type":"area","opacity":1},"encoding":{"x":{"field":"x","type":"quantitative","title":null},"y":{"field":"y","type":"quantitative","scale":{"domain":[50,100],"range":[150.31,116.97],"zero":false,"nice":false},"axis":null},"y2":{"datum":50},"detail":{"field":"g"},"color":{"condition":{"test":"datum.g==='e'","value":"#6b74c9"},"value":"#f2b8b8"}}},
 {"mark":{"type":"line","color":"#333","strokeWidth":0.8},"encoding":{"x":{"field":"x","type":"quantitative","title":null},"y":{"field":"y","type":"quantitative","scale":{"domain":[50,100],"range":[150.31,116.97],"zero":false,"nice":false},"axis":null}}}]},

{"transform":[{"filter":"datum.s==='Dog'"}],"layer":[
 {"transform":[{"filter":"datum.g"}],"mark":{"type":"area","opacity":1},"encoding":{"x":{"field":"x","type":"quantitative","title":null},"y":{"field":"y","type":"quantitative","scale":{"domain":[50,100],"range":[183.64,150.31],"zero":false,"nice":false},"axis":null},"y2":{"datum":50},"detail":{"field":"g"},"color":{"condition":{"test":"datum.g==='e'","value":"#6b74c9"},"value":"#f2b8b8"}}},
 {"mark":{"type":"line","color":"#333","strokeWidth":0.8},"encoding":{"x":{"field":"x","type":"quantitative","title":null},"y":{"field":"y","type":"quantitative","scale":{"domain":[50,100],"range":[183.64,150.31],"zero":false,"nice":false},"axis":null}}}]},

{"transform":[{"filter":"datum.s==='Cow'"}],"layer":[
 {"transform":[{"filter":"datum.g"}],"mark":{"type":"area","opacity":1},"encoding":{"x":{"field":"x","type":"quantitative","title":null},"y":{"field":"y","type":"quantitative","scale":{"domain":[50,100],"range":[216.98,183.64],"zero":false,"nice":false},"axis":null},"y2":{"datum":50},"detail":{"field":"g"},"color":{"condition":{"test":"datum.g==='e'","value":"#6b74c9"},"value":"#f2b8b8"}}},
 {"mark":{"type":"line","color":"#333","strokeWidth":0.8},"encoding":{"x":{"field":"x","type":"quantitative","title":null},"y":{"field":"y","type":"quantitative","scale":{"domain":[50,100],"range":[216.98,183.64],"zero":false,"nice":false},"axis":null}}}]},

{"transform":[{"filter":"datum.s==='Pig'"}],"layer":[
 {"transform":[{"filter":"datum.g"}],"mark":{"type":"area","opacity":1},"encoding":{"x":{"field":"x","type":"quantitative","title":null},"y":{"field":"y","type":"quantitative","scale":{"domain":[50,100],"range":[250.32,216.98],"zero":false,"nice":false},"axis":null},"y2":{"datum":50},"detail":{"field":"g"},"color":{"condition":{"test":"datum.g==='e'","value":"#6b74c9"},"value":"#f2b8b8"}}},
 {"mark":{"type":"line","color":"#333","strokeWidth":0.8},"encoding":{"x":{"field":"x","type":"quantitative","title":null},"y":{"field":"y","type":"quantitative","scale":{"domain":[50,100],"range":[250.32,216.98],"zero":false,"nice":false},"axis":null}}}]},

{"transform":[{"filter":"datum.s==='Mouse'"}],"layer":[
 {"transform":[{"filter":"datum.g"}],"mark":{"type":"area","opacity":1},"encoding":{"x":{"field":"x","type":"quantitative","title":null},"y":{"field":"y","type":"quantitative","scale":{"domain":[50,100],"range":[283.65,250.32],"zero":false,"nice":false},"axis":null},"y2":{"datum":50},"detail":{"field":"g"},"color":{"condition":{"test":"datum.g==='e'","value":"#6b74c9"},"value":"#f2b8b8"}}},
 {"mark":{"type":"line","color":"#333","strokeWidth":0.8},"encoding":{"x":{"field":"x","type":"quantitative","title":null},"y":{"field":"y","type":"quantitative","scale":{"domain":[50,100],"range":[283.65,250.32],"zero":false,"nice":false},"axis":null}}}]},

{"transform":[{"filter":"datum.s==='Rat'"}],"layer":[
 {"transform":[{"filter":"datum.g"}],"mark":{"type":"area","opacity":1},"encoding":{"x":{"field":"x","type":"quantitative","title":null},"y":{"field":"y","type":"quantitative","scale":{"domain":[50,100],"range":[316.99,283.65],"zero":false,"nice":false},"axis":null},"y2":{"datum":50},"detail":{"field":"g"},"color":{"condition":{"test":"datum.g==='e'","value":"#6b74c9"},"value":"#f2b8b8"}}},
 {"mark":{"type":"line","color":"#333","strokeWidth":0.8},"encoding":{"x":{"field":"x","type":"quantitative","title":null},"y":{"field":"y","type":"quantitative","scale":{"domain":[50,100],"range":[316.99,283.65],"zero":false,"nice":false},"axis":null}}}]},

{"transform":[{"filter":"datum.s==='Chicken'"}],"layer":[
 {"transform":[{"filter":"datum.g"}],"mark":{"type":"area","opacity":1},"encoding":{"x":{"field":"x","type":"quantitative","title":null},"y":{"field":"y","type":"quantitative","scale":{"domain":[50,100],"range":[350.32,316.99],"zero":false,"nice":false},"axis":null},"y2":{"datum":50},"detail":{"field":"g"},"color":{"condition":{"test":"datum.g==='e'","value":"#6b74c9"},"value":"#f2b8b8"}}},
 {"mark":{"type":"line","color":"#333","strokeWidth":0.8},"encoding":{"x":{"field":"x","type":"quantitative","title":null},"y":{"field":"y","type":"quantitative","scale":{"domain":[50,100],"range":[350.32,316.99],"zero":false,"nice":false},"axis":null}}}]},

{"transform":[{"filter":"datum.s==='Fugu'"}],"layer":[
 {"transform":[{"filter":"datum.g"}],"mark":{"type":"area","opacity":1},"encoding":{"x":{"field":"x","type":"quantitative","title":null},"y":{"field":"y","type":"quantitative","scale":{"domain":[50,100],"range":[383.66,350.32],"zero":false,"nice":false},"axis":null},"y2":{"datum":50},"detail":{"field":"g"},"color":{"condition":{"test":"datum.g==='e'","value":"#6b74c9"},"value":"#f2b8b8"}}},
 {"mark":{"type":"line","color":"#333","strokeWidth":0.8},"encoding":{"x":{"field":"x","type":"quantitative","title":null},"y":{"field":"y","type":"quantitative","scale":{"domain":[50,100],"range":[383.66,350.32],"zero":false,"nice":false},"axis":null}}}]},

{"transform":[{"filter":"datum.s==='Zebrafish'"}],"layer":[
 {"transform":[{"filter":"datum.g"}],"mark":{"type":"area","opacity":1},"encoding":{"x":{"field":"x","type":"quantitative","title":null},"y":{"field":"y","type":"quantitative","scale":{"domain":[50,100],"range":[417,383.66],"zero":false,"nice":false},"axis":null},"y2":{"datum":50},"detail":{"field":"g"},"color":{"condition":{"test":"datum.g==='e'","value":"#6b74c9"},"value":"#f2b8b8"}}},
 {"mark":{"type":"line","color":"#333","strokeWidth":0.8},"encoding":{"x":{"field":"x","type":"quantitative","title":null},"y":{"field":"y","type":"quantitative","scale":{"domain":[50,100],"range":[417,383.66],"zero":false,"nice":false},"axis":null}}}]},

{"data":{"name":"tracks"},"layer":[
 {"mark":{"type":"rect","fill":"#ffffff","fillOpacity":0,"stroke":"#2b2b2b","strokeWidth":1.3},"encoding":{"x":{"datum":180000,"type":"quantitative","title":null},"x2":{"datum":185000},"y":{"field":"s","type":"nominal","scale":{"type":"band","domain":["Chimp","Baboon","Cat","Dog","Cow","Pig","Mouse","Rat","Chicken","Fugu","Zebrafish"],"range":[50.3,417],"paddingInner":0,"paddingOuter":0},"axis":null}}},
 {"mark":{"type":"text","align":"left","baseline":"middle","dx":7,"fontSize":15,"color":"#111","fontStyle":{"expr":"datum.s === 'Fugu' ? 'italic' : 'normal'"}},"encoding":{"x":{"datum":185000,"type":"quantitative","title":null},"y":{"field":"s","type":"nominal","bandPosition":0.71,"scale":{"type":"band","domain":["Chimp","Baboon","Cat","Dog","Cow","Pig","Mouse","Rat","Chicken","Fugu","Zebrafish"],"range":[50.3,417],"paddingInner":0,"paddingOuter":0},"axis":null},"text":{"field":"s"}}}]},

{"data":{"name":"notes"},"layer":[
 {"transform":[{"filter":"datum.start"}],"mark":{"type":"rule","color":"#222","strokeWidth":1},"encoding":{"x":{"field":"start","type":"quantitative","title":null},"y":{"datum":0,"type":"quantitative","scale":{"domain":[0,1],"range":[425,462],"zero":false,"nice":false},"axis":null},"y2":{"datum":0.3}}},
 {"transform":[{"filter":"datum.start"}],"mark":{"type":"rule","color":"#222","strokeWidth":1},"encoding":{"x":{"field":"end","type":"quantitative","title":null},"y":{"datum":0,"type":"quantitative","scale":{"domain":[0,1],"range":[425,462],"zero":false,"nice":false},"axis":null},"y2":{"datum":0.3}}},
 {"transform":[{"filter":"datum.start"}],"mark":{"type":"rule","color":"#222","strokeWidth":1},"encoding":{"x":{"field":"start","type":"quantitative","title":null},"x2":{"field":"end"},"y":{"datum":0.3,"type":"quantitative","scale":{"domain":[0,1],"range":[425,462],"zero":false,"nice":false},"axis":null}}},
 {"transform":[{"filter":"datum.start"}],"mark":{"type":"rule","color":"#222","strokeWidth":1},"encoding":{"x":{"field":"x","type":"quantitative","title":null},"y":{"datum":0.3,"type":"quantitative","scale":{"domain":[0,1],"range":[425,462],"zero":false,"nice":false},"axis":null},"y2":{"datum":0.57}}},
 {"mark":{"type":"text","fontSize":14,"align":"center","baseline":"middle","color":"#111"},"encoding":{"x":{"field":"x","type":"quantitative","title":null},"y":{"datum":1,"type":"quantitative","scale":{"domain":[0,1],"range":[425,462],"zero":false,"nice":false},"axis":null},"text":{"field":"lbl"}}}]},

{"data":{"name":"gene"},"layer":[
 {"mark":{"type":"point","shape":"M0,-0.47L16.2,-0.47L16.2,-1L17.8,0L16.2,1L16.2,0.47L0,0.47Z","size":400,"filled":true,"fill":"#ffffff","stroke":"#222","strokeWidth":1,"opacity":1},"encoding":{"x":{"field":"start","type":"quantitative","title":null},"y":{"datum":0,"type":"quantitative","scale":{"domain":[0,1],"range":[35,18],"zero":false,"nice":false},"axis":null}}},
 {"mark":{"type":"text","fontSize":14,"fontStyle":"italic","align":"center","baseline":"middle","color":"#111"},"encoding":{"x":{"field":"lx","type":"quantitative","title":null},"y":{"datum":1,"type":"quantitative","scale":{"domain":[0,1],"range":[35,18],"zero":false,"nice":false},"axis":null},"text":{"field":"gene"}}}]}
]
}
